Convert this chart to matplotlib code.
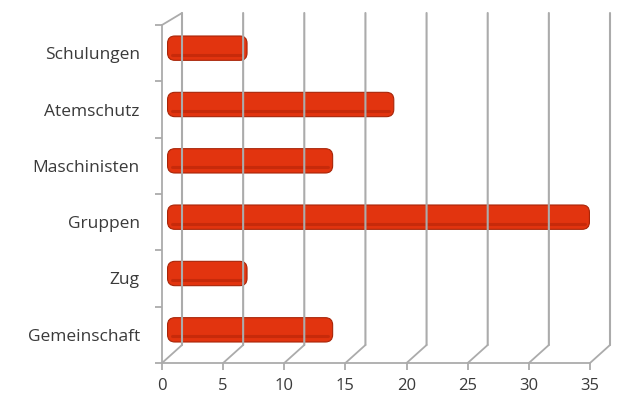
import matplotlib.pyplot as plt
from matplotlib.patches import FancyBboxPatch
from matplotlib.transforms import ScaledTranslation, blended_transform_factory

categories = ['Schulungen', 'Atemschutz', 'Maschinisten', 'Gruppen', 'Zug', 'Gemeinschaft']
values = [6, 18, 13, 34, 6, 13]
xticks = [0, 5, 10, 15, 20, 25, 30, 35]

grid_color = '#ababab'
text_color = '#3a3a3a'
bar_color = '#e2340f'
bar_edge = '#a82508'

plt.rcParams['font.family'] = ['Open Sans', 'DejaVu Sans']

fig = plt.figure(figsize=(6.17, 4.09), dpi=100)
W, H = 617, 409
ax = fig.add_axes([162 / W, (H - 363) / H, (590 - 162) / W, (363 - 25) / H])
ax.set_xlim(0, 35)
ax.set_ylim(len(categories) - 0.5, -0.5)
for s in ax.spines.values():
    s.set_visible(False)


def shift(dx, dy, base):
    return base + ScaledTranslation(dx / 100, dy / 100, fig.dpi_scale_trans)


def seg(p0, tr0, p1, tr1, lw=1.3):
    ax.annotate('', xy=p0, xycoords=tr0, xytext=p1, textcoords=tr1,
                arrowprops=dict(arrowstyle='-', color=grid_color, lw=lw,
                                shrinkA=0, shrinkB=0))


xa = blended_transform_factory(ax.transData, ax.transAxes)

# front bottom edge and left front edge
ax.plot([0, 35], [0, 0], color=grid_color, lw=1.3, transform=xa, clip_on=False)
ax.plot([0, 0], [0, 1], color=grid_color, lw=1.3, transform=xa, clip_on=False)
# floor diagonals, back wall verticals
for x in xticks:
    seg((x, 0), xa, (x, 0), shift(20, 18, xa))
    seg((x, 0), shift(20, 18, xa), (x, 1), shift(20, 12, xa), lw=1.5)
# top left diagonal
seg((0, 1), xa, (0, 1), shift(20, 12, xa))

# bars, drawn at mid depth
bar_h = 0.28
pad = 0.35
px_x = (590 - 162) / 35
px_y = (363 - 25) / len(categories)
bar_tr = shift(8, 5, ax.transData)
for i, v in enumerate(values):
    p = FancyBboxPatch((pad - 0.2, i - bar_h / 2), v - 2 * pad + 0.5, bar_h,
                       boxstyle='round,pad=%g,rounding_size=0.6' % pad,
                       mutation_aspect=px_x / px_y,
                       facecolor=bar_color, edgecolor=bar_edge, lw=0.8,
                       transform=bar_tr, clip_on=False)
    ax.add_patch(p)
    # darker lower side of the cylinder
    ax.plot([0.2, v - 0.1], [i + bar_h * 0.42, i + bar_h * 0.42],
            color='#a82006', lw=2.2, alpha=0.45, solid_capstyle='round',
            transform=bar_tr, clip_on=False)

ax.set_xticks(xticks)
ax.set_xticklabels([str(x) for x in xticks])
ax.tick_params(axis='x', length=5, color=grid_color, width=1.3,
               labelsize=12, labelcolor=text_color, pad=6)
ax.set_yticks(range(len(categories)))
ax.set_yticklabels(categories)
ax.set_yticks([i - 0.5 for i in range(len(categories) + 1)], minor=True)
ax.tick_params(axis='y', which='major', length=0, labelsize=12.5,
               labelcolor=text_color, pad=16)
ax.tick_params(axis='y', which='minor', length=5, color=grid_color, width=1.3)

fig.savefig('out.png', dpi=100, facecolor='white')
